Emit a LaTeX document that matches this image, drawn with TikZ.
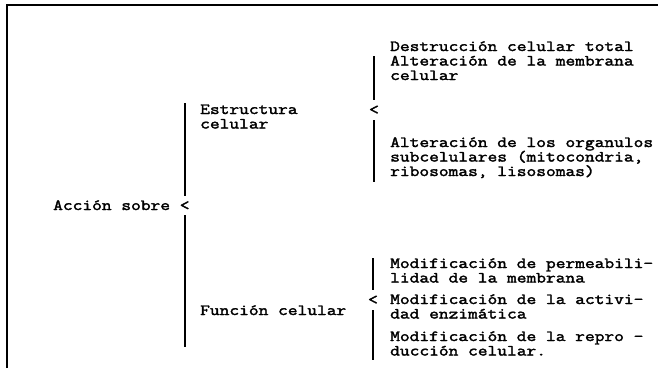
\documentclass[tikz,border=0pt]{standalone}
\usepackage{fontspec}
\setmonofont[FakeStretch=1.22,FakeBold=2.2]{Latin Modern Mono}
\usepackage{tikz}
\usetikzlibrary{positioning}
\tikzset{
  txt/.style={anchor=base west,inner sep=0pt,align=left,
              font=\ttfamily\fontsize{15.5}{14.5}\selectfont},
  brk/.style={txt,anchor=center,minimum height=20pt},
  bar/.style={line width=1.3pt,black},
  frame/.style={line width=1.8pt,black},
}
\begin{document}
\begin{tikzpicture}[x=1pt,y=-1pt]
\useasboundingbox (0,0) rectangle (658,368);
% page frame
\coordinate (fb) at (7,368);
\coordinate (fc) at (7,5);
\coordinate (fr) at (658,5);
\draw[frame] (fb) -- (fc) -- (fr);
% first level
\node[txt] (acc) at (53,210) {Acción sobre <};
\coordinate (m1) at (185,103);
\coordinate (m2) at (185,196);
\coordinate (m3) at (185,215);
\coordinate (m4) at (185,347);
\draw[bar] (m1) -- (m2);
\draw[bar] (m3) -- (m4);
% second level (base = last line)
\node[txt] (est) at (200,128.5) {Estructura\\celular};
\node[txt] (fun) at (200,315) {Función celular};
% bracket: estructura
\node[brk] (b1) at (374,110) {<};
\coordinate (b1t) at (374,56);
\coordinate (b1b) at (374,182);
\draw[bar] (b1t) -- (b1.north);
\draw[bar] (b1.south) -- (b1b);
\node[txt] (d1) at (390,80) {Destrucción celular total\\Alteración de la membrana\\celular};
\node[txt] (d2) at (390,176) {Alteración de los organulos\\subcelulares (mitocondria,\\ribosomas, lisosomas)};
% bracket: funcion
\node[brk] (b2) at (373,300) {<};
\coordinate (b2t) at (373,258);
\coordinate (b2b) at (373,360);
\draw[bar] (b2t) -- (b2.north);
\draw[bar] (b2.south) -- (b2b);
\node[txt] (f1) at (390,282.5) {Modificación de permeabili-\\lidad de la membrana};
\node[txt] (f2) at (390,318.5) {Modificación de la activi-\\dad enzimática};
\node[txt] (f3) at (390,355.5) {Modificación de la repro -\\ducción celular.};
\end{tikzpicture}
\end{document}
